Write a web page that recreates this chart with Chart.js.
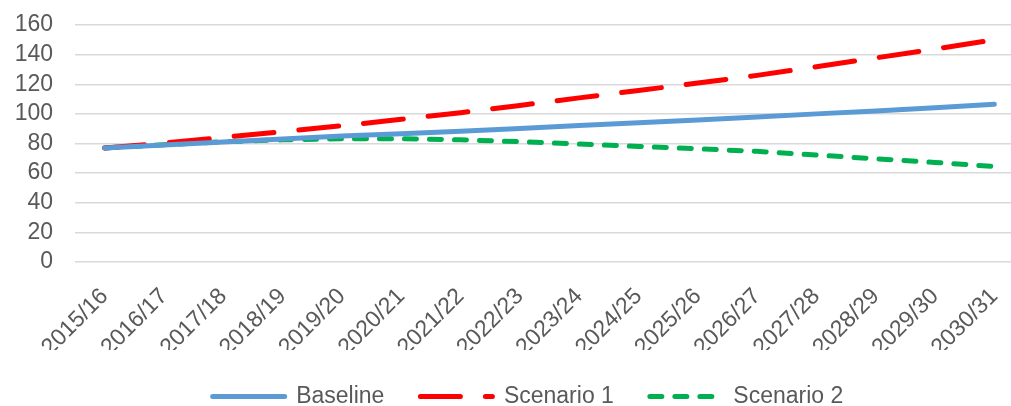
<!DOCTYPE html>
<html>
<head>
<meta charset="utf-8">
<script src="https://cdn.jsdelivr.net/npm/chart.js@4.4.1/dist/chart.umd.min.js"></script>
<style>
  html, body { margin: 0; padding: 0; overflow: hidden; background: #ffffff; }
  #wrap { position: relative; width: 1024px; height: 406px; }
</style>
</head>
<body>
<div id="wrap"><canvas id="chart"></canvas></div>
<script>
// Financial years shown along the category axis
const years = [
  '2015/16', '2016/17', '2017/18', '2018/19', '2019/20', '2020/21', '2021/22', '2022/23',
  '2023/24', '2024/25', '2025/26', '2026/27', '2027/28', '2028/29', '2029/30', '2030/31'
];

// Projected index values per scenario
const baseline  = [77, 79, 81, 83, 85, 86.5, 88.3, 90.2, 92.1, 94, 95.9, 97.9, 100, 102, 104.2, 106.5];
const scenario1 = [77, 80.3, 84.2, 88, 92, 96.3, 100.8, 105.7, 110.8, 115.8, 120.8, 126, 131.8, 137.8, 143.8, 150];
const scenario2 = [77, 79.2, 81.2, 82.5, 83.2, 83.2, 82.5, 81.2, 79.6, 78, 76.4, 74.7, 72.2, 69.7, 67.2, 64.4];

// Value axis ticks
const yTicks = [0, 20, 40, 60, 80, 100, 120, 140, 160];

const textColor = '#595959';
const gridColor = '#D9D9D9';
const fontFamily = '"Liberation Sans", Arial, sans-serif';

const series = [
  { label: 'Baseline',   data: baseline,  color: '#5B9BD5', dash: [] },
  { label: 'Scenario 1', data: scenario1, color: '#FF0000', dash: [40, 25] },
  { label: 'Scenario 2', data: scenario2, color: '#00B050', dash: [12, 13] }
];

const datasets = series.map(s => ({
  label: s.label,
  data: s.data,
  borderColor: s.color,
  backgroundColor: s.color,
  borderWidth: 5,
  borderDash: s.dash,
  borderCapStyle: 'round',
  borderJoinStyle: 'round',
  pointRadius: 0,
  pointHoverRadius: 0,
  tension: 0,
  fill: false
}));

// Centres the legend row under the plot area
const legendPlacement = {
  id: 'legendPlacement',
  afterLayout(chart) {
    const lg = chart.legend;
    if (!lg) return;
    lg.left = 32;
    lg.top -= 1;
    lg.bottom -= 1;
  }
};

new Chart(document.getElementById('chart'), {
  type: 'line',
  data: { labels: years, datasets },
  plugins: [legendPlacement],
  options: {
    responsive: true,
    maintainAspectRatio: false,
    animation: false,
    events: [],
    layout: { padding: { left: 0, right: 0, top: 25, bottom: 0 } },
    scales: {
      x: {
        type: 'category',
        offset: true,
        grid: { display: false, drawTicks: false },
        border: { display: false },
        ticks: {
          autoSkip: false,
          maxRotation: 45,
          minRotation: 45,
          padding: 21,
          color: textColor,
          font: { family: fontFamily, size: 23 }
        },
        afterFit: scale => {
          scale.height = 88;
          scale.paddingLeft = 0;
          scale.paddingRight = 0;
        }
      },
      y: {
        min: 0,
        max: 160,
        afterBuildTicks: scale => { scale.ticks = yTicks.map(v => ({ value: v })); },
        grid: { color: gridColor, lineWidth: 1.5, drawTicks: false },
        border: { display: false },
        ticks: {
          autoSkip: false,
          padding: 22,
          color: textColor,
          font: { family: fontFamily, size: 23 }
        },
        afterFit: scale => {
          scale.width = 75;
          scale.paddingTop = 0;
          scale.paddingBottom = 0;
        }
      }
    },
    plugins: {
      tooltip: { enabled: false },
      legend: {
        position: 'bottom',
        maxHeight: 56,
        labels: {
          usePointStyle: true,
          pointStyle: 'line',
          pointStyleWidth: 72,
          boxHeight: 23,
          padding: 36,
          color: textColor,
          font: { family: fontFamily, size: 23 },
          generateLabels: chart => series.map((s, i) => ({
            text: s.label,
            datasetIndex: i,
            fillStyle: s.color,
            strokeStyle: s.color,
            fontColor: textColor,
            lineWidth: 5,
            lineCap: 'round',
            lineDash: s.dash,
            lineDashOffset: 0,
            pointStyle: 'line',
            hidden: false
          }))
        }
      }
    }
  }
});
</script>
</body>
</html>
